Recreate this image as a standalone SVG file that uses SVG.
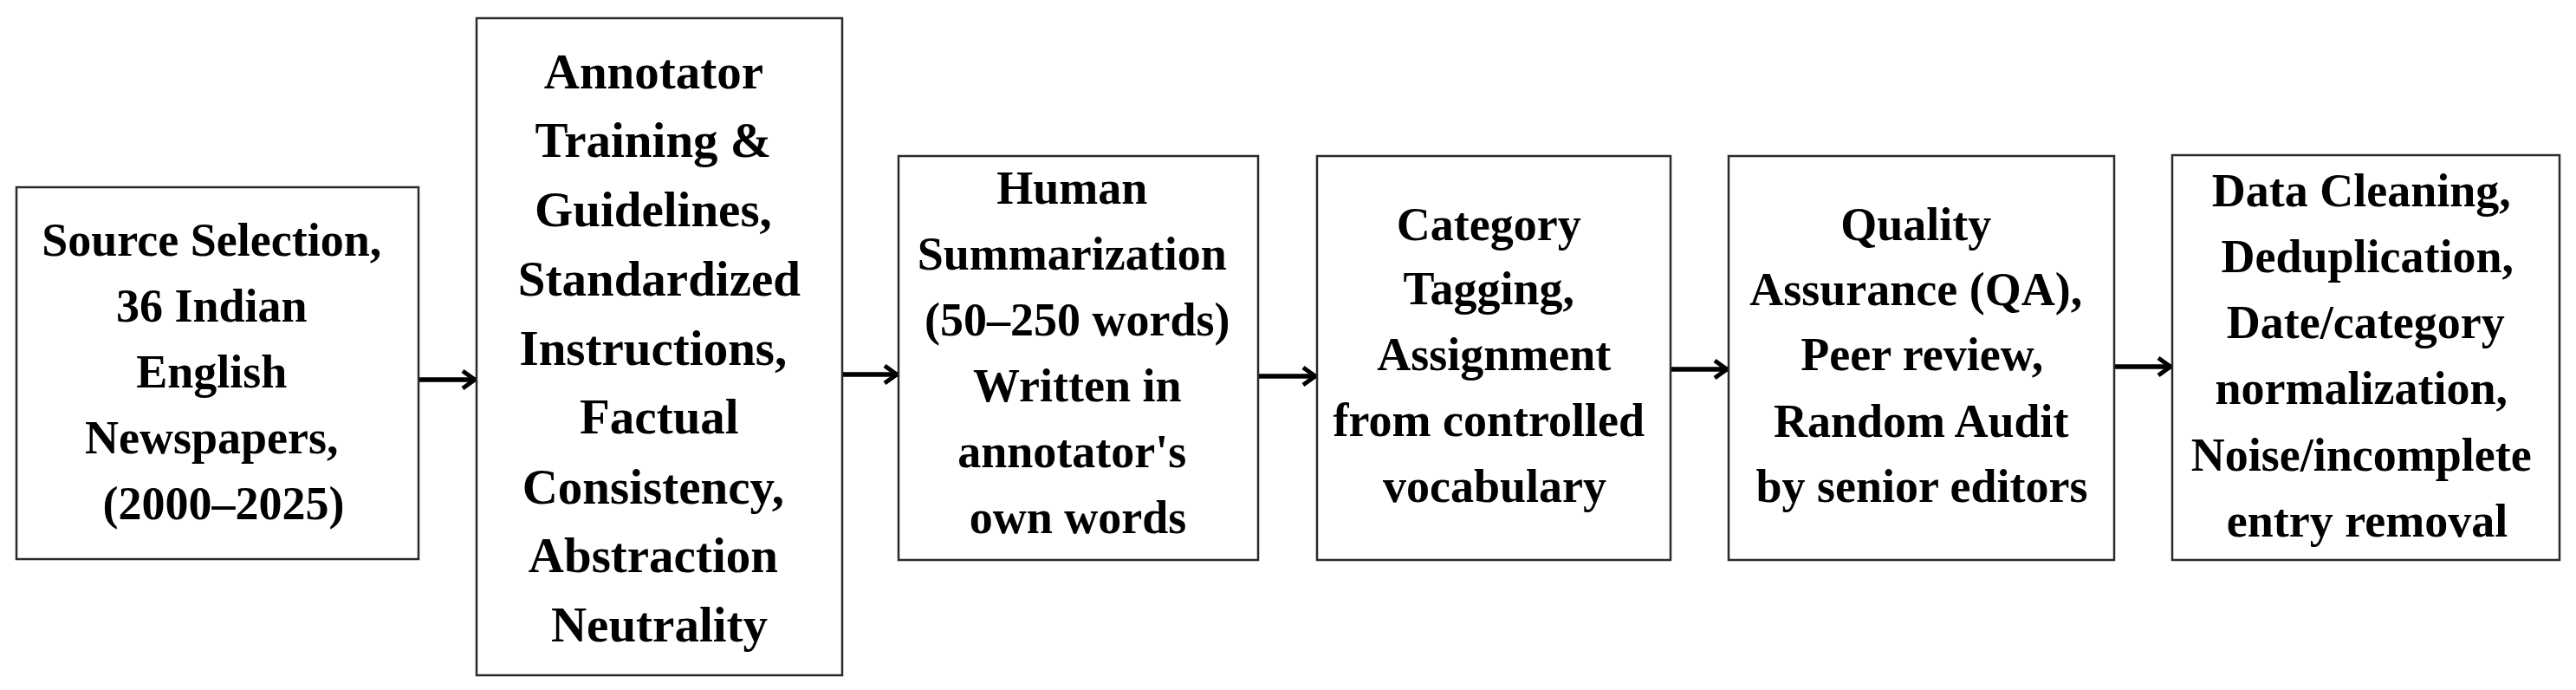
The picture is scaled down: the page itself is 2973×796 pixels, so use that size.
<svg xmlns="http://www.w3.org/2000/svg" width="2973" height="796" viewBox="0 0 2973 796">
<defs>
<style>
.box{fill:#ffffff;stroke:#2a2a2a;stroke-width:2.5}
.t{font-family:"Liberation Serif","Times New Roman",serif;font-weight:bold;font-size:54px;fill:#000;text-anchor:middle}
.t2{font-size:57px}
.c{stroke:#000;stroke-width:5.5;fill:none}
</style>
<marker id="ah" markerUnits="userSpaceOnUse" viewBox="-20 -14 24 28" refX="0" refY="0" markerWidth="24" markerHeight="28" orient="auto" overflow="visible">
<path d="M-15,-10 L-1,0 L-15,10" fill="none" stroke="#000" stroke-width="5"/>
</marker>
</defs>
<rect x="0" y="0" width="2973" height="796" fill="#ffffff"/>
<g id="connectors">
<line class="c" x1="484" y1="438" x2="549" y2="438" marker-end="url(#ah)"/>
<line class="c" x1="973" y1="432" x2="1036" y2="432" marker-end="url(#ah)"/>
<line class="c" x1="1453" y1="434" x2="1519" y2="434" marker-end="url(#ah)"/>
<line class="c" x1="1929" y1="426" x2="1994" y2="426" marker-end="url(#ah)"/>
<line class="c" x1="2441" y1="423" x2="2506" y2="423" marker-end="url(#ah)"/>
</g>
<g id="n1">
<rect class="box" x="19" y="216" width="464" height="429"/>
<text class="t" x="251">
<tspan x="251" y="295">Source Selection,</tspan>
<tspan x="251" y="371">36 Indian</tspan>
<tspan x="251" y="447">English</tspan>
<tspan x="251" y="523">Newspapers,</tspan>
<tspan x="258" y="599">(2000–2025)</tspan>
</text>
</g>
<g id="n2">
<rect class="box" x="550" y="21" width="422" height="758"/>
<text class="t t2" x="761">
<tspan x="761" y="101.5">Annotator</tspan>
<tspan x="761" y="181">Training &amp;</tspan>
<tspan x="761" y="261">Guidelines,</tspan>
<tspan x="768" y="340.5">Standardized</tspan>
<tspan x="761" y="420.5">Instructions,</tspan>
<tspan x="768" y="500">Factual</tspan>
<tspan x="761" y="580.5">Consistency,</tspan>
<tspan x="761" y="660">Abstraction</tspan>
<tspan x="761" y="740">Neutrality</tspan>
</text>
</g>
<g id="n3">
<rect class="box" x="1037" y="180" width="415" height="466"/>
<text class="t" x="1244">
<tspan x="1244" y="235">Human</tspan>
<tspan x="1244" y="311">Summarization</tspan>
<tspan x="1250" y="387">(50–250 words)</tspan>
<tspan x="1250" y="462.5">Written in</tspan>
<tspan x="1244" y="538.5">annotator's</tspan>
<tspan x="1244" y="614.5">own words</tspan>
</text>
</g>
<g id="n4">
<rect class="box" x="1520" y="180" width="408" height="466"/>
<text class="t" x="1725">
<tspan x="1725" y="276.5">Category</tspan>
<tspan x="1725" y="351">Tagging,</tspan>
<tspan x="1731" y="427">Assignment</tspan>
<tspan x="1725" y="503">from controlled</tspan>
<tspan x="1725" y="579">vocabulary</tspan>
</text>
</g>
<g id="n5">
<rect class="box" x="1995" y="180" width="445" height="466"/>
<text class="t" x="2218">
<tspan x="2218" y="276.5">Quality</tspan>
<tspan x="2218" y="351.5">Assurance (QA),</tspan>
<tspan x="2225" y="427">Peer review,</tspan>
<tspan x="2224" y="503.5">Random Audit</tspan>
<tspan x="2218" y="579">by senior editors</tspan>
</text>
</g>
<g id="n6">
<rect class="box" x="2507" y="179" width="447" height="467"/>
<text class="t" x="2732">
<tspan x="2732" y="237.5">Data Cleaning,</tspan>
<tspan x="2739" y="314">Deduplication,</tspan>
<tspan x="2737" y="390">Date/category</tspan>
<tspan x="2732" y="466">normalization,</tspan>
<tspan x="2732" y="542.5">Noise/incomplete</tspan>
<tspan x="2732" y="619">entry removal</tspan>
</text>
</g>
</svg>
